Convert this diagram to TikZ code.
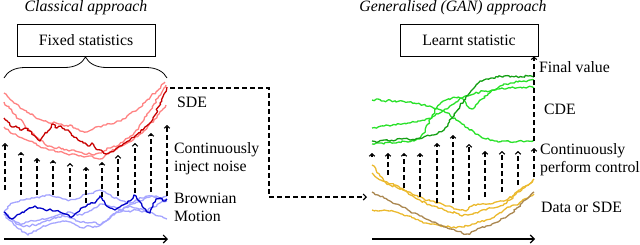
\documentclass[tikz,border=0pt]{standalone}
\usepackage{fontspec}
\setmainfont{Liberation Serif}
\usetikzlibrary{arrows.meta,decorations.pathmorphing,decorations.pathreplacing}
\definecolor{dred}{RGB}{200,0,0}
\definecolor{lred}{RGB}{255,130,130}
\definecolor{dblue}{RGB}{0,0,200}
\definecolor{lblue}{RGB}{165,165,255}
\definecolor{lgreen}{RGB}{40,225,40}
\definecolor{dgreen}{RGB}{20,160,20}
\definecolor{gold}{RGB}{235,185,45}
\definecolor{brownp}{RGB}{170,135,80}
\begin{document}
\begin{tikzpicture}[x=1bp,y=-1bp,
  lbl/.style={font=\fontsize{15.8bp}{18bp}\selectfont, inner sep=0pt},
  ttl/.style={font=\fontsize{15.8bp}{18bp}\selectfont\itshape, inner sep=0pt},
  statbox/.style={draw, line width=0.8bp, minimum width=138bp, minimum height=32bp, inner sep=0pt, font=\fontsize{15.8bp}{18bp}\selectfont},
  noisy/.style={line width=1.3bp, line join=round, decorate, decoration={random steps, segment length=2.2bp, amplitude=1.1bp}},
  dsh/.style={line width=1.1bp, dash pattern=on 5bp off 3bp},
  ctrl/.style={dsh, -{Straight Barb[length=2.5bp,width=5.5bp]}},
  axis/.style={line width=1.1bp, -{Straight Barb[length=4bp,width=8bp]}},
]
\useasboundingbox (0,0) rectangle (640,244);
\pgfmathsetseed{4242}

% titles
\node[ttl, anchor=base] (ttlL) at (86,11) {Classical approach};
\node[ttl, anchor=base] (ttlR) at (453,11) {Generalised (GAN) approach};

% boxes
\node[statbox] (fixed) at (86,40) {Fixed statistics};
\node[statbox] (learnt) at (469,40) {Learnt statistic};

% brace
\coordinate (bl) at (4,78);
\coordinate (br) at (167,78);
\draw[line width=0.8bp, decorate, decoration={brace, amplitude=21bp}] (bl) -- (br);

% ---------- left: SDE paths ----------
\draw[noisy, lred] plot coordinates {(4,93) (9,98) (14,103) (19,106) (24,110) (29,113) (34,116) (39,119) (44,121) (49,123) (54,122) (59,124) (64,126) (70,125) (75,128) (80,131) (86,132) (91,130) (96,127) (101,127) (106,125) (111,124) (116,122) (121,121) (126,118) (131,113) (136,111) (141,107) (146,101) (151,96) (156,92) (161,86) (165,82)};
\draw[noisy, lred] plot coordinates {(4,102) (9,108) (14,114) (19,119) (24,124) (29,130) (34,134) (39,139) (44,143) (49,146) (54,148) (59,147) (64,150) (69,151) (74,150) (79,152) (84,154) (89,153) (94,155) (99,153) (104,151) (109,148) (114,146) (119,145) (124,141) (129,138) (134,133) (139,127) (144,120) (149,112) (154,104) (159,96) (163,90) (166,85)};
\draw[noisy, lred] plot coordinates {(4,127) (9,131) (14,134) (19,137) (24,139) (29,141) (34,143) (39,146) (44,148) (49,150) (54,150) (59,152) (64,153) (69,155) (74,154) (79,156) (84,157) (89,156) (94,158) (99,159) (104,157) (109,153) (114,150) (119,147) (124,145) (129,142) (134,139) (139,135) (144,131) (149,125) (154,120) (159,114) (163,109) (166,105)};
\draw[noisy, dred] plot coordinates {(4,118) (8,122) (12,127) (16,126) (20,130) (25,128) (30,131) (35,136) (40,141) (44,135) (48,131) (53,124) (57,128) (61,126) (65,130) (69,131) (73,136) (78,140) (83,143) (88,146) (92,143) (96,149) (101,150) (106,154) (110,152) (115,150) (120,146) (125,143) (130,140) (135,136) (140,133) (145,127) (150,123) (155,115) (160,103) (164,94) (167,87)};

% ---------- left: Brownian paths ----------
\draw[noisy, lblue] plot coordinates {(4,212) (10,205) (16,202) (22,200) (28,199) (34,198) (40,197) (46,195) (52,196) (58,197) (64,199) (70,200) (76,199) (82,196) (88,194) (94,192) (100,190) (106,193) (112,197) (118,199) (124,201) (130,203) (136,200) (142,198) (148,196) (154,197) (160,199) (167,199)};
\draw[noisy, lblue] plot coordinates {(4,214) (10,218) (16,222) (22,224) (28,222) (34,221) (40,220) (46,219) (52,217) (58,215) (64,214) (70,212) (76,214) (82,215) (88,212) (94,208) (100,204) (106,205) (112,207) (118,209) (124,211) (130,212) (136,210) (142,209) (148,211) (154,214) (160,216) (167,219)};
\draw[noisy, lblue] plot coordinates {(4,214) (9,220) (14,225) (19,229) (24,232) (28,235) (32,233) (37,230) (42,227) (48,225) (54,223) (60,222) (66,221) (72,223) (78,226) (84,228) (90,226) (96,227) (102,224) (108,219) (114,214) (120,212) (126,207) (132,204) (138,202) (144,199) (150,197) (156,196) (162,198) (167,196)};
\draw[noisy, lblue] plot coordinates {(4,212) (10,218) (16,224) (22,226) (28,226) (34,225) (40,224) (46,221) (52,219) (58,217) (64,216) (70,218) (76,221) (82,222) (88,223) (94,222) (100,225) (106,221) (112,215) (118,212) (124,208) (130,206) (136,208) (142,212) (148,210) (154,207) (160,203) (167,201)};
\draw[noisy, dblue] plot coordinates {(4,212) (8,216) (12,219) (16,216) (20,214) (25,211) (30,208) (35,206) (40,208) (45,210) (50,209) (55,211) (60,212) (65,214) (70,217) (75,214) (80,210) (85,207) (90,204) (95,203) (100,196) (105,203) (110,208) (115,210) (120,207) (125,204) (130,201) (134,195) (138,200) (142,206) (146,210) (150,213) (153,206) (156,199) (160,198) (163,201) (167,199)};

% left noise arrows
\foreach \i/\xx/\yt/\yb in {1/5/143/190, 2/21/152/195, 3/37/158/195, 4/53/160/195, 5/70/163/197, 6/86/167/203, 7/102/162/197, 8/118/155/196, 9/135/143/193, 10/151/133/192, 11/167/125/196} {
  \coordinate (la\i) at (\xx,\yb);
  \coordinate (lb\i) at (\xx,\yt);
  \draw[ctrl] (la\i) -- (lb\i);
}

% left axis
\coordinate (axL0) at (4,239);
\coordinate (axL1) at (168,239);
\draw[axis] (axL0) -- (axL1);

% left labels (multi-line nodes: anchor on the last line's baseline)
\node[lbl, anchor=base west] (sde) at (177,107) {SDE};
\node[lbl, anchor=base west, align=left] (noise) at (174,171) {Continuously\\inject noise};
\node[lbl, anchor=base west, align=left] (bm) at (174,221) {Brownian\\Motion};

% connector
\coordinate (c0) at (170,88);
\coordinate (c1) at (269,88);
\coordinate (c2) at (269,197);
\coordinate (c3) at (367,197);
\draw[dsh, -{Straight Barb[length=3bp,width=6bp]}] (c0) -- (c1) -- (c2) -- (c3);

% ---------- right: green CDE paths ----------
\draw[noisy, lgreen] plot coordinates {(372,100) (378,99) (384,101) (390,100) (396,102) (402,101) (408,102) (414,103) (420,104) (426,106) (432,107) (438,109) (444,111) (450,115) (456,120) (462,124) (468,128) (474,132) (480,136) (486,139) (492,140) (498,142) (504,141) (510,142) (516,142) (522,141) (528,141) (534,140)};
\draw[noisy, lgreen] plot coordinates {(372,128) (378,127) (384,126) (390,126) (396,125) (402,124) (408,123) (414,122) (420,121) (426,119) (432,117) (438,114) (444,110) (450,106) (456,102) (462,98) (468,96) (474,94) (480,92) (486,91) (492,90) (498,89) (504,89) (510,88) (516,88) (522,88) (528,87) (534,88)};
\draw[noisy, lgreen] plot coordinates {(372,144) (378,143) (384,144) (390,142) (396,143) (402,141) (408,142) (414,141) (420,139) (424,133) (428,124) (432,116) (436,109) (440,104) (446,100) (452,98) (458,97) (463,99) (466,103) (469,108) (472,109) (475,107) (478,103) (482,99) (488,94) (494,90) (500,86) (506,84) (512,83) (518,82) (524,81) (530,80) (534,80)};
\draw[noisy, dgreen] plot coordinates {(372,141) (378,142) (384,140) (390,141) (396,140) (402,139) (408,139) (414,140) (420,138) (426,136) (432,135) (438,133) (444,130) (448,124) (452,118) (456,112) (460,106) (464,100) (468,95) (472,90) (476,85) (480,81) (486,79) (492,78) (498,77) (504,76) (510,77) (516,76) (522,77) (528,76) (534,77)};

% ---------- right: data paths ----------
\draw[noisy, gold] plot coordinates {(372,165) (376,170) (380,176) (385,182) (390,185) (396,187) (402,189) (408,193) (414,197) (420,200) (426,203) (432,206) (438,208) (444,210) (450,212) (456,213) (462,216) (468,215) (474,213) (480,211) (486,210) (492,208) (498,207) (504,204) (510,200) (516,194) (522,189) (528,185) (533,181)};
\draw[noisy, gold] plot coordinates {(372,173) (377,178) (382,181) (388,183) (394,185) (400,188) (406,191) (412,194) (418,197) (424,199) (430,201) (436,203) (442,204) (448,206) (454,209) (460,210) (466,211) (472,206) (478,204) (484,204) (490,204) (496,202) (502,201) (508,199) (514,195) (520,190) (526,186) (532,182) (534,179)};
\draw[noisy, gold] plot coordinates {(372,210) (378,211) (384,210) (390,211) (396,212) (402,214) (408,216) (414,218) (420,221) (426,223) (432,224) (438,225) (444,226) (450,227) (456,228) (462,227) (468,226) (474,224) (480,222) (486,220) (492,218) (498,214) (504,210) (510,207) (516,205) (522,201) (528,198) (534,194)};
\draw[noisy, brownp] plot coordinates {(372,192) (378,195) (384,198) (390,201) (396,204) (402,207) (408,210) (414,213) (420,216) (426,219) (432,222) (438,224) (444,227) (450,229) (456,231) (462,233) (468,234) (474,231) (480,228) (486,226) (492,224) (498,222) (504,218) (510,214) (516,209) (522,203) (528,198) (534,192)};

% right control arrows
\foreach \i/\xx/\yt/\yb in {1/372/153/157, 2/388/153/175, 3/404/153/188, 4/420/153/197, 5/437/143/203, 6/453/135/203, 7/469/144/200, 8/485/151/197, 9/502/151/192, 10/518/151/185, 11/534/148/177} {
  \coordinate (ra\i) at (\xx,\yb);
  \coordinate (rb\i) at (\xx,\yt);
  \draw[ctrl] (ra\i) -- (rb\i);
}

% final value arrow
\coordinate (fvs) at (534,141);
\draw[ctrl] (fvs) -- (fvs |- learnt.south);

% right axis
\coordinate (axR0) at (372,239);
\coordinate (axR1) at (535,239);
\draw[axis] (axR0) -- (axR1);

% right labels
\node[lbl, anchor=base west] (fval) at (539,72) {Final value};
\node[lbl, anchor=base west] (cde) at (544,114) {CDE};
\node[lbl, anchor=base west, align=left] (pctrl) at (540,172) {Continuously\\perform control};
\node[lbl, anchor=base west] (data) at (541,212) {Data or SDE};
\end{tikzpicture}
\end{document}
